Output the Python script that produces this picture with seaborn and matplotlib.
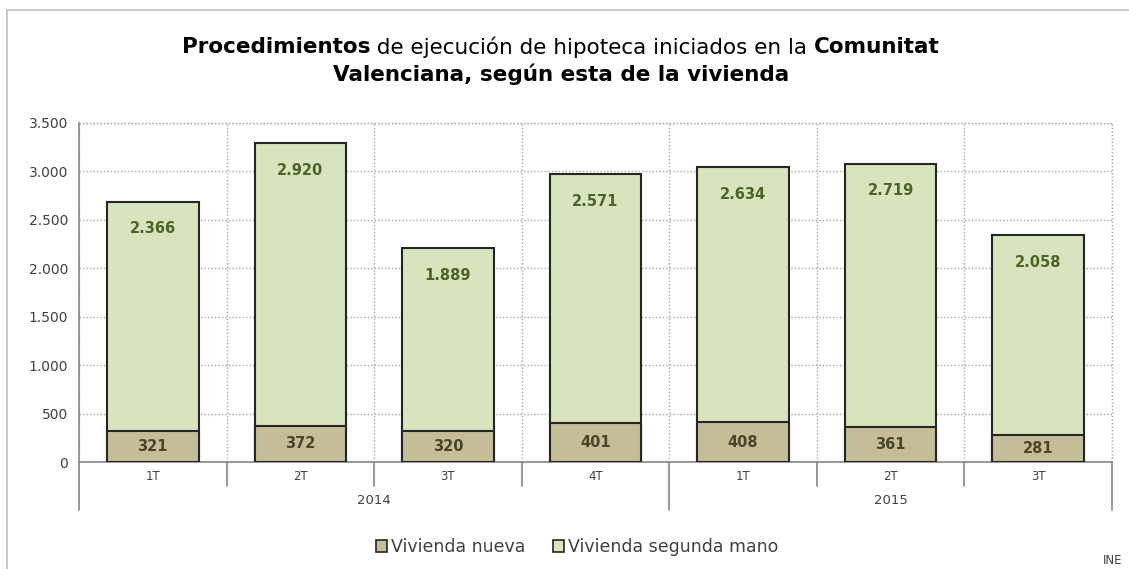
import matplotlib
matplotlib.use("Agg")
import matplotlib.pyplot as plt
from matplotlib.patches import Patch, Rectangle
import matplotlib.transforms as mtransforms
import pandas as pd
import seaborn as sns

# data
quarters = ["1T", "2T", "3T", "4T", "1T", "2T", "3T"]
years = ["2014", "2014", "2014", "2014", "2015", "2015", "2015"]
nueva = [321, 372, 320, 401, 408, 361, 281]
segunda = [2366, 2920, 1889, 2571, 2634, 2719, 2058]
yticks = [0, 500, 1000, 1500, 2000, 2500, 3000, 3500]

COL_NUEVA = "#C4BD97"
COL_SEGUNDA = "#D7E4BD"
TXT_NUEVA = "#4A452A"
TXT_SEGUNDA = "#4F6228"
EDGE = "#262626"
AXIS_GREY = "#868686"
GRID = (0, (1, 1.5))

sns.set_style("white")
plt.rcParams["font.family"] = ["DejaVu Sans"]

df = pd.DataFrame({
    "periodo": [f"{y} {q}" for y, q in zip(years, quarters)],
    "nueva": nueva,
    "segunda": segunda,
})
df["total"] = df["nueva"] + df["segunda"]

W, H = 1129, 569
fig = plt.figure(figsize=(W / 100, H / 100), dpi=100)
ax = fig.add_axes([79 / W, 1 - 462 / H, (1112 - 79) / W, (462 - 123) / H])

# outer chart border
fig.patches.append(Rectangle((7 / W, -0.05), 1.2, 1 - 10 / H + 0.05, transform=fig.transFigure,
                             fill=False, edgecolor="#BFBFBF", linewidth=1.2, zorder=0))

# stacked bars: total first, then the lower segment on top
sns.barplot(data=df, x="periodo", y="total", color=COL_SEGUNDA, saturation=1, width=0.62,
            edgecolor=EDGE, linewidth=1.5, ax=ax, zorder=3)
sns.barplot(data=df, x="periodo", y="nueva", color=COL_NUEVA, saturation=1, width=0.62,
            edgecolor=EDGE, linewidth=1.5, ax=ax, zorder=4)

ax.set_xlim(-0.5, len(df) - 0.5)
ax.set_ylim(0, 3500)
ax.set_yticks(yticks)
ax.set_yticklabels([f"{v:,}".replace(",", ".") for v in yticks], fontsize=10, color="#404040")
ax.set_xlabel("")
ax.set_ylabel("")

# grid: dotted, horizontal at ticks and vertical at category boundaries
ax.set_xticks([i - 0.5 for i in range(len(df) + 1)], minor=True)
ax.grid(axis="y", which="major", linestyle=GRID, color="#A6A6A6", linewidth=1, zorder=0)
ax.grid(axis="x", which="minor", linestyle=GRID, color="#A6A6A6", linewidth=1, zorder=0)
ax.set_axisbelow(True)
ax.axvline(len(df) - 0.5, linestyle=GRID, color="#A6A6A6", linewidth=1, clip_on=False, zorder=0)
ax.axhline(3500, linestyle=GRID, color="#A6A6A6", linewidth=1, clip_on=False, zorder=0)

for s in ["top", "right"]:
    ax.spines[s].set_visible(False)
for s in ["left", "bottom"]:
    ax.spines[s].set_color(AXIS_GREY)
    ax.spines[s].set_linewidth(1.2)
ax.tick_params(axis="y", which="major", direction="out", length=4, color=AXIS_GREY, width=1.2, pad=4)
ax.tick_params(axis="x", which="both", length=0)
ax.set_xticks(range(len(df)))
ax.set_xticklabels([])

# two-level category axis
trans = mtransforms.blended_transform_factory(ax.transData, ax.transAxes)
for i, q in enumerate(quarters):
    ax.text(i, -14 / 339, q, transform=trans, ha="center", va="center", fontsize=8.5, color="#404040")
for b in range(len(df) + 1):
    x = b - 0.5
    long_sep = b == 0 or b == len(df) or years[b] != years[b - 1]
    y1 = -48 / 339 if long_sep else -24 / 339
    ax.plot([x, x], [0, y1], transform=trans, color=AXIS_GREY, linewidth=1.2, clip_on=False)
for yr in dict.fromkeys(years):
    idx = [i for i, y in enumerate(years) if y == yr]
    ax.text(sum(idx) / len(idx), -38 / 339, yr, transform=trans, ha="center", va="center",
            fontsize=9.5, color="#404040")

# value labels
for i, row in df.iterrows():
    ax.text(i, row["nueva"] / 2, f"{row['nueva']:,}".replace(",", "."), ha="center", va="center",
            fontsize=10.5, fontweight="bold", color=TXT_NUEVA, zorder=6)
    ax.annotate(f"{row['segunda']:,}".replace(",", "."), (i, row["total"]), xytext=(0, -27),
                textcoords="offset pixels", ha="center", va="center",
                fontsize=10.5, fontweight="bold", color=TXT_SEGUNDA, zorder=6)


def rich_line(parts, y_px, size, center_px=561):
    renderer = fig.canvas.get_renderer()
    items = []
    for s, w in parts:
        t = fig.text(0, 1 - y_px / H, s, fontsize=size, fontweight=w, ha="left", va="center", color="#000000")
        items.append((t, t.get_window_extent(renderer).width))
    x = center_px - sum(wd for _, wd in items) / 2
    for t, wd in items:
        t.set_x(x / W)
        x += wd


rich_line([("Procedimientos", "bold"), (" de ejecución de hipoteca iniciados en la ", "normal"),
           ("Comunitat", "bold")], 47, 15.5)
rich_line([("Valenciana, según esta de la vivienda", "bold")], 74, 15.5)

handles = [Patch(facecolor=COL_NUEVA, edgecolor=EDGE, linewidth=1.2, label="Vivienda nueva"),
           Patch(facecolor=COL_SEGUNDA, edgecolor=EDGE, linewidth=1.2, label="Vivienda segunda mano")]
fig.legend(handles=handles, loc="center", bbox_to_anchor=(577 / W, 1 - 547 / H), ncol=2, frameon=False,
           fontsize=12.5, handlelength=0.65, handleheight=0.65, handletextpad=0.2, columnspacing=1.6,
           labelcolor="#404040")

fig.text(1122 / W, 1 - 560 / H, "INE", ha="right", va="center", fontsize=8.5, color="#404040")

fig.savefig("out.png", dpi=100)
